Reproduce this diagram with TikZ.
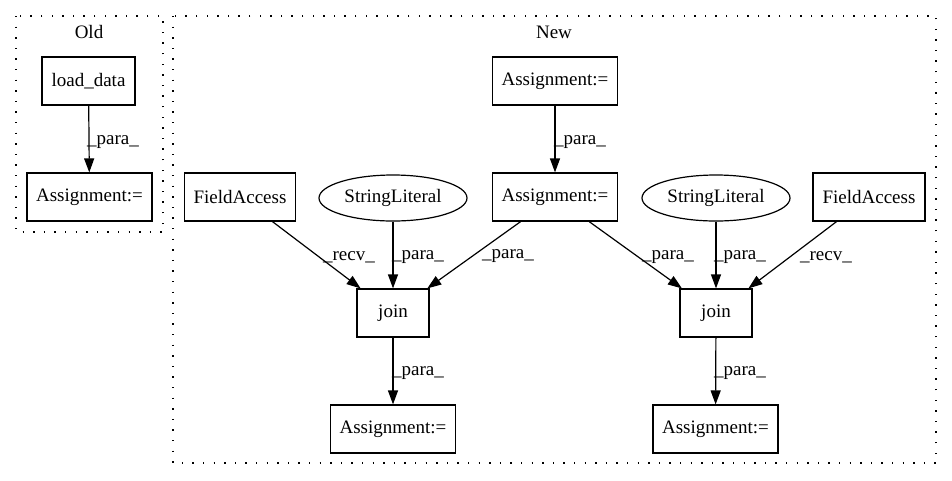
\documentclass[tikz,border=0pt]{standalone}
\usepackage{fontspec}
\setmainfont{Liberation Serif}
\usetikzlibrary{arrows.meta,shapes.geometric}

\tikzset{
  box/.style={draw, line width=1.2pt, rectangle, inner sep=0pt, minimum height=48pt},
  oval/.style={draw, line width=1.2pt, ellipse, inner sep=0pt, minimum width=148pt, minimum height=46pt},
  cluster/.style={draw, line width=1.3pt, dash pattern=on 1.4pt off 9.2pt},
  edge/.style={line width=1.2pt, -{Triangle[length=14pt,width=10pt]}},
  elabel/.style={inner sep=0pt, font=\fontsize{19}{21}\selectfont}
}

\begin{document}
\begin{tikzpicture}[x=1pt,y=-1pt, font=\fontsize{19}{21}\selectfont]
  \useasboundingbox (0,0) rectangle (952,480);

  % clusters
  \draw[cluster] (16,16) rectangle (163,232);
  \node (oldlbl) at (89,32) {Old};
  \draw[cluster] (173,16) rectangle (936,463);
  \node (newlbl) at (554,32) {New};

  % Old cluster nodes
  \node[box, minimum width=93pt]  (load) at (88.5,81) {load\_data};
  \node[box, minimum width=125pt] (oasg) at (89.5,197) {Assignment:=};

  % New cluster nodes
  \node[box, minimum width=125pt] (atop) at (555,81)  {Assignment:=};
  \node[box, minimum width=125pt] (amid) at (555,197) {Assignment:=};
  \node[box, minimum width=111pt] (faL)  at (240,197) {FieldAccess};
  \node[oval]                     (slL)  at (393,198) {StringLiteral};
  \node[oval]                     (slR)  at (716,198) {StringLiteral};
  \node[box, minimum width=112pt] (faR)  at (869,197) {FieldAccess};
  \node[box, minimum width=72pt]  (jL)   at (393,313) {join};
  \node[box, minimum width=72pt]  (jR)   at (716,313) {join};
  \node[box, minimum width=125pt] (aBL)  at (393,429) {Assignment:=};
  \node[box, minimum width=125pt] (aBR)  at (715.5,429) {Assignment:=};

  % edges
  \draw[edge] (load) -- (oasg);
  \node[elabel] (l1) at (113,142) {\_para\_};

  \draw[edge] (atop) -- (amid);
  \node[elabel] (l2) at (580,142) {\_para\_};

  \draw[edge] (faL) -- (jL);
  \node[elabel] (l3) at (349,257) {\_recv\_};
  \draw[edge] (slL) -- (jL);
  \node[elabel] (l4) at (418,257) {\_para\_};
  \draw[edge] (amid) -- (jL);
  \node[elabel] (l5) at (508,256) {\_para\_};

  \draw[edge] (amid) -- (jR);
  \node[elabel] (l6) at (668,257) {\_para\_};
  \draw[edge] (slR) -- (jR);
  \node[elabel] (l7) at (740,257) {\_para\_};
  \draw[edge] (faR) -- (jR);
  \node[elabel] (l8) at (826,257) {\_recv\_};

  \draw[edge] (jL) -- (aBL);
  \node[elabel] (l9) at (418,373) {\_para\_};
  \draw[edge] (jR) -- (aBR);
  \node[elabel] (l10) at (740,373) {\_para\_};
\end{tikzpicture}
\end{document}
